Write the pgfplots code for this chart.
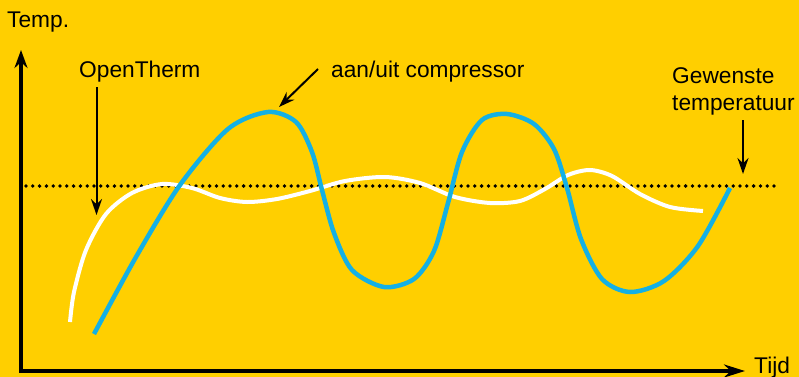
\documentclass[border=0pt]{standalone}
\usepackage{pgfplots}
\pgfplotsset{compat=1.18}
\usepackage{fontspec}
\setmainfont{Liberation Sans}
\usetikzlibrary{arrows.meta}
\definecolor{bg}{RGB}{255,207,0}
\definecolor{comp}{RGB}{20,176,228}

\begin{document}
\begin{tikzpicture}[font=\fontsize{22.8}{27}\selectfont]
\begin{axis}[
  scale only axis, width=799bp, height=377bp,
  xmin=0, xmax=799, ymin=0, ymax=377, y dir=reverse,
  hide axis, clip=false,
]
\coordinate (bl) at (axis cs:0,377);
\coordinate (tr) at (axis cs:799,0);
\fill[bg] (axis cs:0,0) rectangle (axis cs:799,377);

% assen
\draw[line width=4bp, -{Stealth[length=18bp,width=13bp]}] (axis cs:21,372) -- (axis cs:21,50);
\draw[line width=4bp, -{Stealth[length=21bp,width=13bp]}] (axis cs:19,371) -- (axis cs:745,371);
\node[anchor=base west, inner sep=0] at (axis cs:7,28) {Temp.};
\node[anchor=base west, inner sep=0] at (axis cs:754,373) {Tijd};

% gewenste temperatuur
\draw[line width=3.8bp, line cap=round, dash pattern=on 0bp off 6.8bp] (axis cs:26,186) -- (axis cs:779,186);

% OpenTherm (wit)
\addplot[white, line width=4bp, smooth] coordinates {
(70,322) (74,292) (86,250) (106,214) (132,193) (162,184) (192,188)
(220,198) (247,202) (277,199) (310,191) (345,181) (385,177) (420,183)
(455,197) (490,203) (520,201) (545,189) (568,175) (590,170) (612,176)
(640,194) (670,207) (703,211)};

% aan/uit compressor (blauw)
\addplot[comp, line width=4.5bp, smooth] coordinates {
(94,334) (136,257) (180,185) (228,129) (268,112) (296,122) (312,152)
(322,190) (334,233) (352,270) (384,287) (414,279) (434,251) (448,203)
(462,152) (482,120) (507,114) (534,124) (554,149) (567,188) (581,239)
(602,279) (630,292) (664,281) (698,246) (730,188)};

% pijlen en teksten
\draw[line width=2bp, -{Stealth[length=16bp,width=11bp]}] (axis cs:96.5,87) -- (axis cs:96.5,215);
\node[anchor=base west, inner sep=0] at (axis cs:79,77) {OpenTherm};
\draw[line width=2bp, -{Stealth[length=16bp,width=11bp]}] (axis cs:318,69) -- (axis cs:279,107);
\node[anchor=base west, inner sep=0] at (axis cs:331,77) {aan/uit compressor};
\draw[line width=2bp, -{Stealth[length=16bp,width=11bp]}] (axis cs:743,120) -- (axis cs:743,174);
\node[anchor=base west, inner sep=0] at (axis cs:672,83) {Gewenste};
\node[anchor=base west, inner sep=0] at (axis cs:672,110) {temperatuur};
\end{axis}
\pgfresetboundingbox
\path[use as bounding box] (bl) rectangle (tr);
\end{tikzpicture}
\end{document}
